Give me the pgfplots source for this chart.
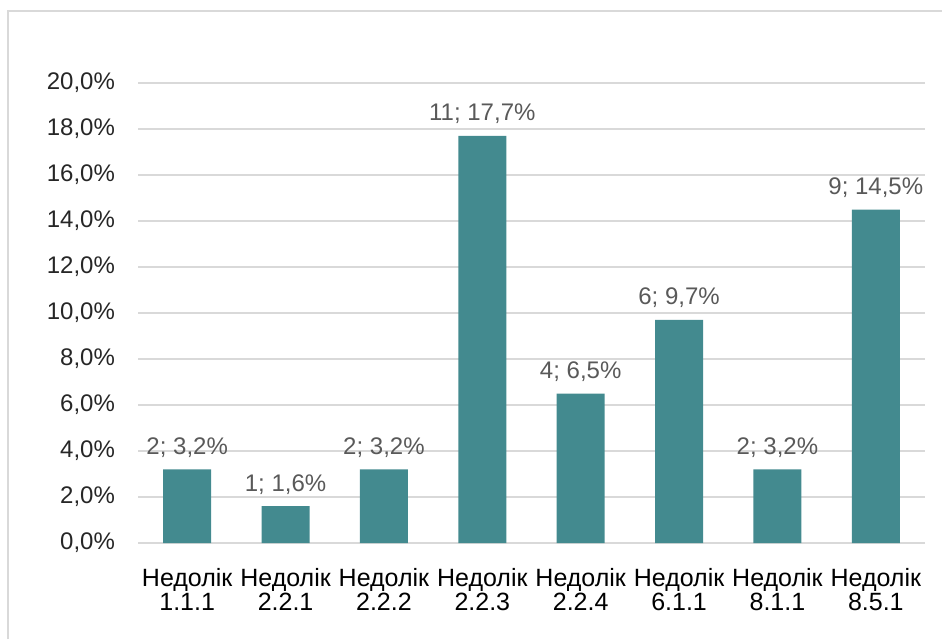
\documentclass[border=0pt]{standalone}
\usepackage{pgfplots}
\pgfplotsset{compat=1.18}
\usepackage{fontspec}
\setmainfont{Liberation Sans}
\definecolor{barc}{RGB}{67,138,143}
\definecolor{gridc}{RGB}{217,217,217}
\definecolor{lblc}{RGB}{89,89,89}
\definecolor{tickc}{RGB}{38,38,38}
\newcommand{\sm}{\char"3B\relax}
\begin{document}
\begin{tikzpicture}
\useasboundingbox (0,0) rectangle (471pt,319.5pt);
\draw[gridc, line width=1pt] (4pt,0) -- (4pt,314pt) -- (471pt,314pt);
\begin{axis}[
  at={(69pt,48pt)}, anchor=south west,
  scale only axis, width=393.5pt, height=230pt,
  xmin=-0.5, xmax=7.5, ymin=0, ymax=20,
  axis line style={draw=none},
  ytick={0,2,...,20},
  yticklabels={{0,0\%},{2,0\%},{4,0\%},{6,0\%},{8,0\%},{10,0\%},{12,0\%},{14,0\%},{16,0\%},{18,0\%},{20,0\%}},
  yticklabel style={font=\fontsize{12}{13}\selectfont, text=tickc, xshift=-8pt},
  xtick={0,...,7},
  xticklabels={{Недолік\\1.1.1},{Недолік\\2.2.1},{Недолік\\2.2.2},{Недолік\\2.2.3},{Недолік\\2.2.4},{Недолік\\6.1.1},{Недолік\\8.1.1},{Недолік\\8.5.1}},
  xticklabel style={align=center, font=\fontsize{12.5}{12}\selectfont, text=black, yshift=-9pt},
  major tick length=0pt,
  ymajorgrids, major grid style={gridc, line width=0.75pt},
  ybar, bar width=24pt,
  nodes near coords,
  point meta=explicit symbolic,
  nodes near coords style={font=\fontsize{12}{13}\selectfont, text=lblc, anchor=base, inner sep=0pt, yshift=7.5pt},
]
\addplot[fill=barc, draw=none] coordinates {
(0,3.2) [{2\sm{} 3,2\%}]
(1,1.6) [{1\sm{} 1,6\%}]
(2,3.2) [{2\sm{} 3,2\%}]
(3,17.7) [{11\sm{} 17,7\%}]
(4,6.5) [{4\sm{} 6,5\%}]
(5,9.7) [{6\sm{} 9,7\%}]
(6,3.2) [{2\sm{} 3,2\%}]
(7,14.5) [{9\sm{} 14,5\%}]
};
\end{axis}
\end{tikzpicture}
\end{document}
